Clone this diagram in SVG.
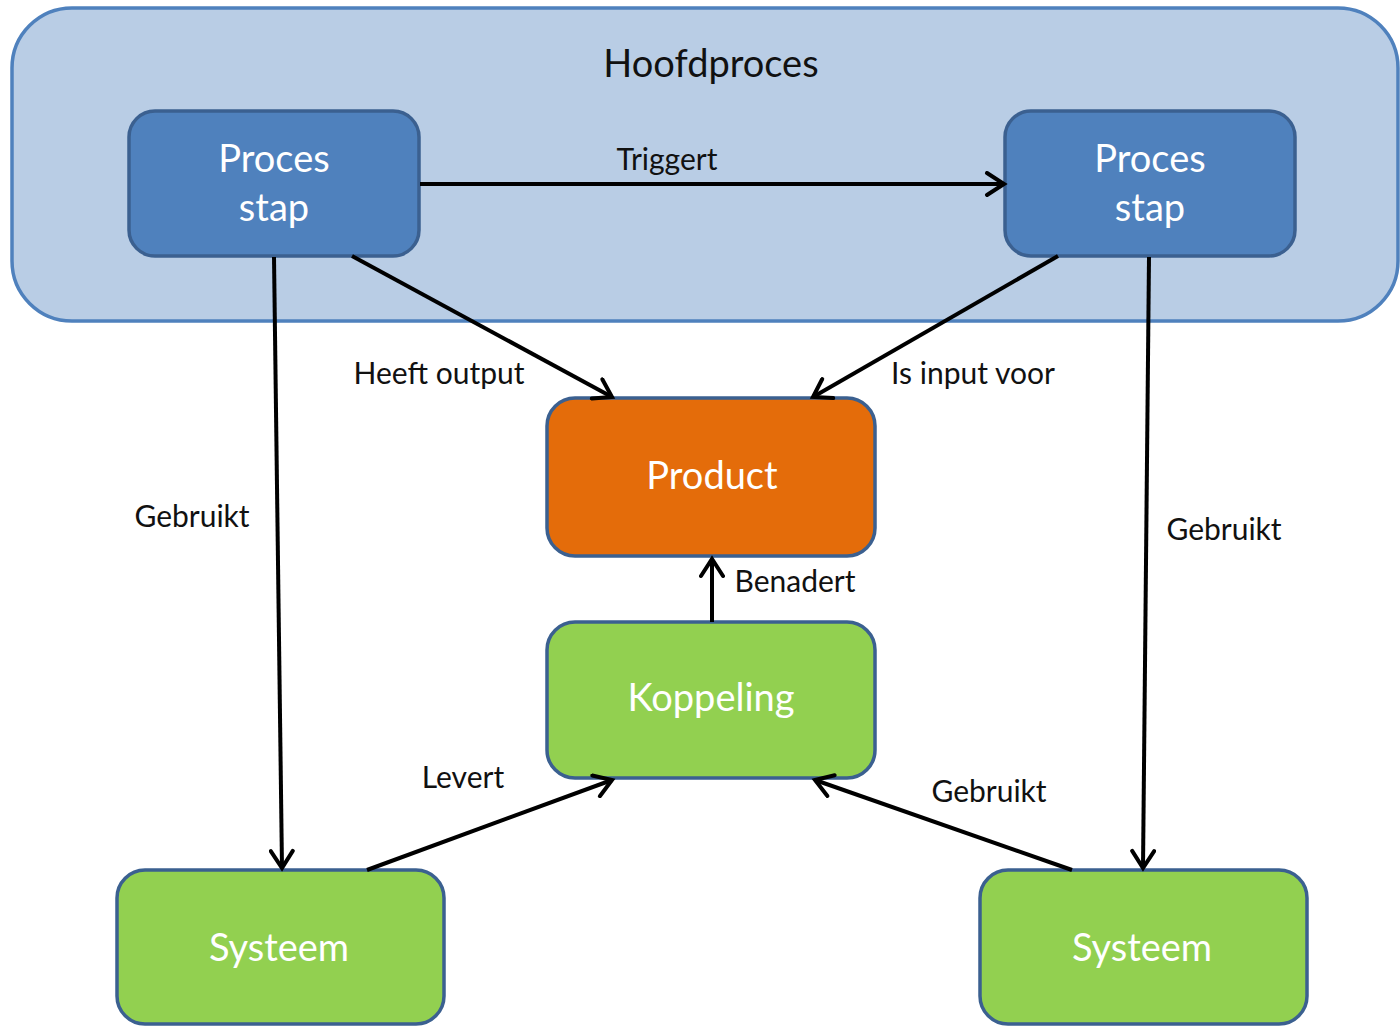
<svg xmlns="http://www.w3.org/2000/svg" width="1400" height="1028" viewBox="0 0 1400 1028">
<defs>
<style>
.node{stroke:#3B6090;stroke-width:3.5}
.blue{fill:#4F81BD}
.orange{fill:#E46C0A}
.green{fill:#92D050}
.nt{font-family:Lato,"Open Sans","Liberation Sans",sans-serif;font-size:38px;fill:#ffffff;text-anchor:middle}
.lb{font-family:Lato,"Open Sans","Liberation Sans",sans-serif;font-size:30px;fill:#111111;text-anchor:middle}
.ct{font-family:Lato,"Open Sans","Liberation Sans",sans-serif;font-size:38px;fill:#111111;text-anchor:middle}
.edge{stroke:#000000;stroke-width:4;fill:none;marker-end:url(#arr)}
</style>
<marker id="arr" markerUnits="userSpaceOnUse" markerWidth="26" markerHeight="26" viewBox="0 0 26 26" refX="22" refY="13" orient="auto">
<path d="M5,2 L22,13 L5,24" fill="none" stroke="#000000" stroke-width="4" stroke-linecap="round" stroke-linejoin="miter"/>
</marker>
</defs>
<rect width="1400" height="1028" fill="#ffffff"/>
<g id="hoofdproces">
<rect x="12" y="8" width="1386" height="313" rx="60" ry="60" fill="#B9CDE5" stroke="#4F81BD" stroke-width="3.5"/>
<text class="ct" x="711" y="77">Hoofdproces</text>
</g>
<g id="processtap1">
<rect class="node blue" x="129" y="111" width="290" height="145" rx="26"/>
<text class="nt" x="274" y="172">Proces</text>
<text class="nt" x="274" y="221">stap</text>
</g>
<g id="processtap2">
<rect class="node blue" x="1005" y="111" width="290" height="145" rx="26"/>
<text class="nt" x="1150" y="172">Proces</text>
<text class="nt" x="1150" y="221">stap</text>
</g>
<g id="product">
<rect class="node orange" x="547" y="398" width="328" height="158" rx="28"/>
<text class="nt" x="712" y="489">Product</text>
</g>
<g id="koppeling">
<rect class="node green" x="547" y="622" width="328" height="156" rx="28"/>
<text class="nt" x="711" y="711">Koppeling</text>
</g>
<g id="systeem1">
<rect class="node green" x="117" y="870" width="327" height="154" rx="28"/>
<text class="nt" x="279" y="961">Systeem</text>
</g>
<g id="systeem2">
<rect class="node green" x="980" y="870" width="327" height="154" rx="28"/>
<text class="nt" x="1142" y="961">Systeem</text>
</g>
<g id="connectors">
<line class="edge" x1="420" y1="184" x2="1004" y2="184"/>
<line class="edge" x1="352" y1="256" x2="612" y2="397"/>
<line class="edge" x1="1058" y1="256" x2="813" y2="397"/>
<line class="edge" x1="274" y1="257" x2="282" y2="868"/>
<line class="edge" x1="1149" y1="257" x2="1143" y2="868"/>
<line class="edge" x1="712" y1="622" x2="712" y2="559"/>
<line class="edge" x1="367" y1="870" x2="612" y2="780"/>
<line class="edge" x1="1072" y1="870" x2="815" y2="780"/>
</g>
<g id="labels">
<text class="lb" x="667" y="170">Triggert</text>
<text class="lb" x="439" y="384">Heeft output</text>
<text class="lb" x="973" y="384">Is input voor</text>
<text class="lb" x="192" y="527">Gebruikt</text>
<text class="lb" x="1224" y="540">Gebruikt</text>
<text class="lb" x="795" y="592">Benadert</text>
<text class="lb" x="463" y="788">Levert</text>
<text class="lb" x="989" y="802">Gebruikt</text>
</g>
</svg>
